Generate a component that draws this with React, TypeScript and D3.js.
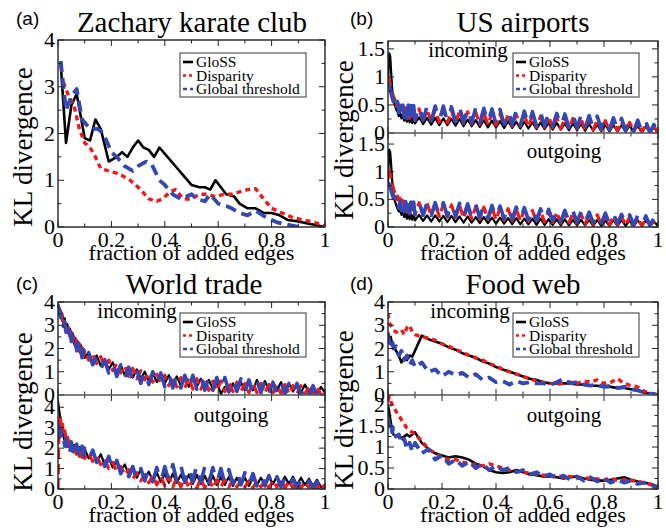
import * as d3 from 'd3';

// ---- data ----
const methods = ['GloSS', 'Disparity', 'Global threshold'];

const fracTicks = [0, 0.2, 0.4, 0.6, 0.8, 1];
const fracMinor = [0.1, 0.3, 0.5, 0.7, 0.9];

// (a) Zachary karate club
const glossKarateX = [0.01, 0.03, 0.05, 0.07, 0.1, 0.12, 0.14, 0.16, 0.19, 0.22, 0.24, 0.26, 0.28, 0.3, 0.32, 0.34, 0.36, 0.38, 0.41, 0.44, 0.47, 0.5, 0.53, 0.55, 0.57, 0.59, 0.61, 0.63, 0.66, 0.68, 0.71, 0.74, 0.77, 0.8, 0.83, 0.86, 0.9, 0.93, 0.96, 1.0];
const glossKarateY = [3.5, 1.8, 2.6, 2.85, 1.9, 1.85, 2.3, 2.1, 1.4, 1.5, 1.6, 1.5, 1.7, 1.85, 1.7, 1.65, 1.5, 1.7, 1.5, 1.3, 1.1, 0.9, 0.85, 0.85, 0.8, 1.0, 0.85, 0.7, 0.65, 0.5, 0.4, 0.4, 0.3, 0.3, 0.25, 0.15, 0.12, 0.08, 0.05, 0.0];
const disparityKarateX = [0.02, 0.04, 0.06, 0.08, 0.1, 0.12, 0.14, 0.16, 0.19, 0.22, 0.24, 0.27, 0.29, 0.31, 0.34, 0.37, 0.39, 0.42, 0.44, 0.47, 0.5, 0.53, 0.56, 0.59, 0.62, 0.65, 0.68, 0.71, 0.74, 0.77, 0.8, 0.84, 0.88, 0.92, 0.96, 1.0];
const disparityKarateY = [3.1, 2.8, 2.6, 2.1, 1.8, 1.7, 1.5, 1.25, 1.2, 1.15, 1.1, 1.0, 0.9, 0.8, 0.6, 0.55, 0.6, 0.75, 0.8, 0.6, 0.6, 0.7, 0.7, 0.65, 0.7, 0.7, 0.75, 0.8, 0.82, 0.6, 0.4, 0.3, 0.2, 0.15, 0.1, 0.02];
const globalKarateX = [0.01, 0.03, 0.05, 0.07, 0.09, 0.12, 0.15, 0.17, 0.2, 0.22, 0.25, 0.28, 0.3, 0.33, 0.35, 0.38, 0.4, 0.43, 0.46, 0.5, 0.52, 0.55, 0.57, 0.6, 0.63, 0.65, 0.68, 0.71, 0.74, 0.78, 0.82, 0.86, 0.9];
const globalKarateY = [3.55, 2.5, 2.8, 2.95, 2.3, 2.1, 2.1, 2.0, 1.6, 1.5, 1.3, 1.2, 1.3, 1.4, 1.35, 1.0, 0.9, 0.7, 0.6, 0.7, 0.6, 0.55, 0.7, 0.5, 0.45, 0.4, 0.3, 0.25, 0.35, 0.2, 0.1, 0.05, 0.0];

// fine x positions for the noisy networks (b, c)
const fineX = [
  0, 0.004, 0.008, 0.012, 0.016, 0.02, 0.025, 0.03, 0.035, 0.04, 0.045, 0.05, 0.055, 0.06, 0.065, 0.07, 0.075, 0.08, 0.085, 0.09, 0.095, 0.1,
  0.115, 0.13, 0.145, 0.16, 0.175, 0.19, 0.205, 0.22, 0.235, 0.25,
  0.265, 0.28, 0.295, 0.31, 0.325, 0.34, 0.355, 0.37, 0.385, 0.4,
  0.415, 0.43, 0.445, 0.46, 0.475, 0.49, 0.505, 0.52, 0.535, 0.55,
  0.565, 0.58, 0.595, 0.61, 0.625, 0.64, 0.655, 0.67, 0.685, 0.7,
  0.715, 0.73, 0.745, 0.76, 0.775, 0.79, 0.805, 0.82, 0.835, 0.85,
  0.865, 0.88, 0.895, 0.91, 0.925, 0.94, 0.955, 0.97, 0.985, 1.0,
];

// coarser x positions for the food web (d)
const gridX = [0, 0.005, 0.01, 0.015, 0.02, 0.03, 0.04, 0.05, 0.06, 0.07, 0.08, 0.09, 0.1, 0.125, 0.15, 0.175, 0.2, 0.225, 0.25, 0.275, 0.3, 0.325, 0.35, 0.375, 0.4, 0.425, 0.45, 0.475, 0.5, 0.525, 0.55, 0.575, 0.6, 0.625, 0.65, 0.675, 0.7, 0.725, 0.75, 0.775, 0.8, 0.825, 0.85, 0.875, 0.9, 0.925, 0.95, 0.975, 1];

// (b) US airports
const glossAirIn = [
  0.85, 1.42, 1.38, 1.05, 0.75, 0.6, 0.5, 0.42, 0.38, 0.3, 0.36, 0.26, 0.33, 0.22, 0.3, 0.2, 0.29, 0.19, 0.28, 0.18, 0.27, 0.17,
  0.28, 0.16, 0.27, 0.15, 0.27, 0.14, 0.26, 0.14, 0.25, 0.13,
  0.25, 0.12, 0.24, 0.12, 0.23, 0.11, 0.23, 0.1, 0.22, 0.1,
  0.21, 0.09, 0.21, 0.09, 0.2, 0.08, 0.2, 0.08, 0.19, 0.07,
  0.19, 0.07, 0.18, 0.06, 0.18, 0.06, 0.17, 0.05, 0.17, 0.05,
  0.16, 0.04, 0.16, 0.04, 0.15, 0.03, 0.15, 0.03, 0.14, 0.03,
  0.14, 0.02, 0.13, 0.02, 0.13, 0.01, 0.12, 0.01, 0.1, 0.0,
];
const disparityAirIn = [
  1.0, 0.95, 0.88, 0.8, 0.72, 0.65, 0.6, 0.48, 0.55, 0.4, 0.5, 0.34, 0.47, 0.3, 0.45, 0.28, 0.44, 0.26, 0.43, 0.24, 0.42, 0.22,
  0.43, 0.21, 0.42, 0.2, 0.42, 0.19, 0.41, 0.18, 0.4, 0.18,
  0.39, 0.17, 0.38, 0.16, 0.37, 0.15, 0.36, 0.15, 0.35, 0.14,
  0.34, 0.13, 0.33, 0.12, 0.33, 0.12, 0.32, 0.11, 0.31, 0.1,
  0.3, 0.1, 0.29, 0.09, 0.28, 0.08, 0.27, 0.08, 0.26, 0.07,
  0.25, 0.06, 0.24, 0.06, 0.23, 0.05, 0.22, 0.04, 0.21, 0.04,
  0.2, 0.03, 0.19, 0.03, 0.18, 0.02, 0.16, 0.01, 0.12, 0.0,
];
const globalAirIn = [
  0.9, 0.85, 0.78, 0.7, 0.62, 0.56, 0.6, 0.42, 0.56, 0.36, 0.52, 0.32, 0.5, 0.28, 0.5, 0.26, 0.5, 0.25, 0.49, 0.24, 0.49, 0.23,
  0.5, 0.22, 0.49, 0.22, 0.48, 0.21, 0.48, 0.2, 0.47, 0.2,
  0.46, 0.19, 0.46, 0.18, 0.45, 0.18, 0.44, 0.17, 0.43, 0.16,
  0.42, 0.15, 0.41, 0.15, 0.4, 0.14, 0.39, 0.13, 0.38, 0.13,
  0.37, 0.12, 0.36, 0.11, 0.35, 0.11, 0.34, 0.1, 0.33, 0.09,
  0.32, 0.08, 0.31, 0.08, 0.3, 0.07, 0.28, 0.06, 0.27, 0.05,
  0.26, 0.04, 0.24, 0.03, 0.23, 0.02, 0.2, 0.01, 0.15, 0.0,
];
const glossAirOut = [
  0.8, 1.4, 1.36, 1.1, 0.8, 0.6, 0.48, 0.4, 0.33, 0.28, 0.3, 0.22, 0.27, 0.18, 0.25, 0.15, 0.24, 0.14, 0.23, 0.13, 0.22, 0.12,
  0.22, 0.11, 0.21, 0.1, 0.21, 0.1, 0.2, 0.09, 0.2, 0.09,
  0.19, 0.08, 0.19, 0.08, 0.18, 0.07, 0.18, 0.07, 0.17, 0.06,
  0.17, 0.06, 0.16, 0.05, 0.16, 0.05, 0.15, 0.05, 0.15, 0.04,
  0.15, 0.04, 0.14, 0.04, 0.14, 0.03, 0.14, 0.03, 0.13, 0.03,
  0.13, 0.03, 0.13, 0.02, 0.13, 0.02, 0.12, 0.02, 0.13, 0.02,
  0.13, 0.02, 0.12, 0.02, 0.12, 0.02, 0.12, 0.02, 0.1, 0.02,
];
const disparityAirOut = [
  1.05, 1.02, 0.95, 0.86, 0.78, 0.7, 0.62, 0.5, 0.56, 0.42, 0.52, 0.36, 0.48, 0.32, 0.46, 0.28, 0.45, 0.26, 0.44, 0.24, 0.44, 0.22,
  0.44, 0.21, 0.43, 0.2, 0.42, 0.19, 0.41, 0.18, 0.4, 0.17,
  0.39, 0.16, 0.38, 0.15, 0.37, 0.14, 0.36, 0.14, 0.35, 0.13,
  0.34, 0.12, 0.33, 0.11, 0.32, 0.11, 0.31, 0.1, 0.3, 0.09,
  0.29, 0.09, 0.28, 0.08, 0.27, 0.07, 0.26, 0.07, 0.25, 0.06,
  0.24, 0.05, 0.23, 0.05, 0.22, 0.04, 0.21, 0.04, 0.2, 0.03,
  0.19, 0.03, 0.18, 0.02, 0.17, 0.02, 0.15, 0.06, 0.08, 0.0,
];
const globalAirOut = [
  0.8, 0.78, 0.72, 0.65, 0.58, 0.52, 0.55, 0.4, 0.5, 0.34, 0.47, 0.3, 0.46, 0.27, 0.46, 0.25, 0.46, 0.24, 0.45, 0.23, 0.45, 0.22,
  0.45, 0.21, 0.45, 0.21, 0.44, 0.2, 0.44, 0.2, 0.43, 0.19,
  0.43, 0.18, 0.42, 0.18, 0.41, 0.17, 0.4, 0.16, 0.39, 0.16,
  0.38, 0.15, 0.37, 0.14, 0.36, 0.14, 0.35, 0.13, 0.34, 0.12,
  0.33, 0.12, 0.32, 0.11, 0.31, 0.1, 0.3, 0.1, 0.29, 0.09,
  0.28, 0.08, 0.27, 0.08, 0.26, 0.07, 0.25, 0.06, 0.24, 0.06,
  0.23, 0.05, 0.22, 0.04, 0.21, 0.04, 0.2, 0.03, 0.16, 0.02,
];

// (c) World trade
const glossTradeIn = [
  3.8, 3.5, 3.7, 3.3, 3.5, 3.1, 3.3, 2.85, 3.05, 2.6, 2.85, 2.4, 2.65, 2.2, 2.45, 2.0, 2.3, 1.85, 2.15, 1.7, 2.0, 1.6,
  1.85, 1.4, 1.7, 1.25, 1.55, 1.1, 1.4, 0.95, 1.3, 0.85,
  1.2, 0.75, 1.1, 0.7, 1.0, 0.6, 0.95, 0.55, 0.9, 0.5,
  0.85, 0.45, 0.8, 0.4, 0.75, 0.35, 0.7, 0.35, 0.7, 0.3,
  0.65, 0.25, 0.55, 0.05, 0.35, 0.1, 0.5, 0.15, 0.55, 0.2,
  0.6, 0.2, 0.65, 0.25, 0.6, 0.2, 0.55, 0.2, 0.55, 0.15,
  0.5, 0.15, 0.45, 0.1, 0.45, 0.1, 0.4, 0.05, 0.35, 0.1,
];
const disparityTradeIn = [
  3.6, 3.75, 3.4, 3.55, 3.2, 3.35, 2.95, 3.1, 2.7, 2.9, 2.5, 2.7, 2.3, 2.5, 2.1, 2.35, 1.95, 2.2, 1.8, 2.05, 1.65, 1.9,
  1.5, 1.8, 1.35, 1.65, 1.2, 1.5, 1.05, 1.35, 0.95, 1.25,
  0.8, 1.15, 0.7, 1.05, 0.65, 0.95, 0.55, 0.9, 0.5, 0.85,
  0.4, 0.8, 0.35, 0.75, 0.3, 0.75, 0.25, 0.7, 0.25, 0.65,
  0.2, 0.6, 0.2, 0.6, 0.15, 0.55, 0.15, 0.55, 0.15, 0.5,
  0.1, 0.5, 0.1, 0.5, 0.1, 0.45, 0.1, 0.45, 0.05, 0.45,
  0.05, 0.4, 0.05, 0.4, 0.05, 0.35, 0.0, 0.35, 0.0, 0.1,
];
const globalTradeIn = [
  3.9, 3.45, 3.6, 3.2, 3.4, 2.95, 3.15, 2.7, 2.95, 2.5, 2.75, 2.3, 2.55, 2.1, 2.4, 1.9, 2.25, 1.75, 2.1, 1.6, 1.95, 1.45,
  1.8, 1.3, 1.65, 1.1, 1.5, 0.95, 1.4, 0.8, 1.3, 0.7,
  1.2, 0.6, 1.1, 0.5, 1.05, 0.45, 1.0, 0.4, 0.95, 0.35,
  0.9, 0.3, 0.9, 0.3, 0.85, 0.25, 0.85, 0.25, 0.8, 0.2,
  0.8, 0.2, 0.75, 0.2, 0.75, 0.15, 0.7, 0.15, 0.7, 0.1,
  0.65, 0.1, 0.6, 0.1, 0.6, 0.05, 0.55, 0.05, 0.55, 0.05,
  0.5, 0.05, 0.5, 0.0, 0.45, 0.0, 0.4, 0.0, 0.35, 0.05,
];
const glossTradeOut = [
  4.3, 3.9, 3.5, 3.1, 2.8, 2.6, 2.35, 2.5, 2.15, 2.35, 2.0, 2.25, 1.9, 2.15, 1.8, 2.1, 1.7, 2.05, 1.65, 2.0, 1.6, 1.95,
  1.5, 1.85, 1.35, 1.7, 1.2, 1.55, 1.05, 1.4, 0.9, 1.2,
  0.7, 1.05, 0.55, 0.95, 0.45, 0.85, 0.4, 0.8, 0.35, 0.75,
  0.3, 0.75, 0.3, 0.7, 0.3, 0.7, 0.25, 0.7, 0.25, 0.65,
  0.2, 0.65, 0.2, 0.6, 0.2, 0.6, 0.15, 0.55, 0.2, 0.55,
  0.15, 0.55, 0.2, 0.55, 0.2, 0.6, 0.25, 0.6, 0.25, 0.6,
  0.25, 0.6, 0.2, 0.55, 0.2, 0.5, 0.15, 0.45, 0.1, 0.15,
];
const disparityTradeOut = [
  0.0, 3.5, 3.6, 3.1, 3.3, 2.7, 2.9, 2.4, 2.6, 2.1, 2.35, 1.95, 2.2, 1.8, 2.1, 1.7, 2.0, 1.6, 1.95, 1.55, 1.9, 1.5,
  1.75, 1.35, 1.6, 1.2, 1.45, 1.0, 1.3, 0.85, 1.1, 0.7,
  0.95, 0.5, 0.8, 0.4, 0.7, 0.3, 0.65, 0.2, 0.6, 0.15,
  0.6, 0.1, 0.55, 0.1, 0.55, 0.05, 0.5, 0.05, 0.5, 0.05,
  0.5, 0.05, 0.45, 0.1, 0.45, 0.1, 0.45, 0.1, 0.4, 0.1,
  0.4, 0.05, 0.4, 0.1, 0.4, 0.05, 0.4, 0.1, 0.4, 0.05,
  0.4, 0.05, 0.35, 0.05, 0.35, 0.05, 0.35, 0.0, 0.3, 0.0,
];
const globalTradeOut = [
  3.2, 3.0, 2.6, 2.8, 2.3, 2.6, 2.1, 2.45, 2.0, 2.35, 1.9, 2.3, 1.85, 2.25, 1.8, 2.2, 1.75, 2.15, 1.7, 2.1, 1.6, 2.0,
  1.45, 1.9, 1.3, 1.75, 1.1, 1.6, 0.9, 1.4, 0.75, 1.2,
  0.6, 1.1, 0.45, 1.0, 0.4, 1.0, 0.35, 1.05, 0.35, 1.1,
  0.4, 1.2, 0.4, 1.15, 0.35, 1.1, 0.35, 1.2, 0.35, 1.1,
  0.3, 1.05, 0.3, 1.0, 0.25, 0.95, 0.25, 0.9, 0.2, 0.8,
  0.2, 0.75, 0.15, 0.7, 0.15, 0.65, 0.1, 0.6, 0.1, 0.55,
  0.1, 0.5, 0.05, 0.45, 0.05, 0.4, 0.05, 0.35, 0.0, 0.1,
];

// (d) Food web
const glossFoodIn = [2.7, 2.4, 2.5, 2.2, 2.1, 1.9, 1.7, 1.4, 1.6, 1.5, 1.7, 1.65, 1.9, 2.55, 2.4, 2.3, 2.2, 2.05, 1.95, 1.8, 1.7, 1.6, 1.45, 1.35, 1.2, 1.1, 1.0, 0.9, 0.8, 0.7, 0.65, 0.55, 0.5, 0.5, 0.5, 0.5, 0.45, 0.45, 0.4, 0.4, 0.35, 0.35, 0.3, 0.3, 0.25, 0.2, 0.1, 0.05, 0.02];
const disparityFoodIn = [3.5, 3.1, 3.0, 2.9, 2.8, 2.7, 2.75, 2.8, 2.6, 2.9, 3.0, 2.7, 2.6, 2.5, 2.45, 2.35, 2.2, 2.1, 1.95, 1.85, 1.7, 1.6, 1.5, 1.35, 1.25, 1.1, 1.0, 0.9, 0.8, 0.7, 0.6, 0.55, 0.5, 0.45, 0.5, 0.55, 0.5, 0.6, 0.55, 0.65, 0.5, 0.55, 0.7, 0.5, 0.4, 0.35, 0.15, 0.08, 0.02];
const globalFoodIn = [2.6, 2.3, 2.2, 2.4, 2.0, 2.1, 1.7, 1.9, 1.5, 1.7, 1.3, 1.5, 1.2, 1.4, 1.0, 1.1, 0.8, 1.0, 0.85, 0.95, 0.75, 0.9, 0.65, 0.75, 0.55, 0.6, 0.45, 0.6, 0.5, 0.55, 0.5, 0.5, 0.45, 0.55, 0.7, 0.5, 0.55, 0.45, 0.4, 0.45, 0.35, 0.4, 0.3, 0.35, 0.25, 0.2, 0.1, 0.05, 0.0];
const glossFoodOut = [2.0, 1.8, 1.6, 1.4, 1.3, 1.25, 1.3, 1.2, 1.25, 1.3, 1.25, 1.3, 1.35, 1.1, 0.95, 0.85, 0.8, 0.75, 0.78, 0.75, 0.7, 0.6, 0.55, 0.45, 0.4, 0.38, 0.4, 0.45, 0.4, 0.35, 0.33, 0.3, 0.3, 0.28, 0.25, 0.28, 0.3, 0.25, 0.22, 0.2, 0.2, 0.22, 0.25, 0.28, 0.22, 0.18, 0.15, 0.12, 0.05];
const disparityFoodOut = [2.1, 2.2, 2.1, 2.0, 1.95, 1.85, 1.75, 1.65, 1.55, 1.45, 1.4, 1.35, 1.3, 1.15, 0.95, 0.85, 0.75, 0.7, 0.7, 0.65, 0.6, 0.58, 0.55, 0.6, 0.55, 0.5, 0.45, 0.42, 0.4, 0.38, 0.35, 0.33, 0.3, 0.32, 0.28, 0.3, 0.25, 0.27, 0.25, 0.24, 0.22, 0.25, 0.2, 0.22, 0.2, 0.18, 0.15, 0.1, 0.03];
const globalFoodOut = [1.7, 1.5, 1.6, 1.35, 1.45, 1.25, 1.3, 1.1, 1.2, 0.95, 1.1, 0.9, 1.1, 0.85, 0.95, 0.7, 0.8, 0.6, 0.7, 0.55, 0.65, 0.5, 0.6, 0.45, 0.55, 0.45, 0.5, 0.4, 0.45, 0.35, 0.4, 0.3, 0.35, 0.25, 0.32, 0.22, 0.3, 0.2, 0.28, 0.18, 0.25, 0.15, 0.22, 0.15, 0.2, 0.12, 0.15, 0.08, 0.05];

// ---- styles ----
const serif = 'Liberation Serif, serif';
const sans = 'Liberation Sans, sans-serif';
const lineStyle = [
  { color: '#000000', width: 2.6, dash: '' },
  { color: '#f01818', width: 3.4, dash: '5,4' },
  { color: '#3347b5', width: 3.8, dash: '11,6' },
];
// dense (noisy) curves: longer dashes so they clump into blobs as in the original
const noisyStyle = [
  { color: '#000000', width: 2.2, dash: '' },
  { color: '#f01818', width: 3.2, dash: '10,5' },
  { color: '#3347b5', width: 3.6, dash: '22,16' },
];
const legendDash = ['', '3,3', '4,3'];

type Sub = {
  top: number;
  bottom: number;
  domain: [number, number];
  ticks: number[];
  minor: number[];
  series: { x: number[]; y: number[] }[];
  note?: { text: string; x: number; y: number };
};

type PanelCfg = {
  id: string;
  tag: string;
  title: string;
  left: number;
  right: number;
  titleX: number;
  titleY: number;
  tagX: number;
  tagY: number;
  ylabX: number;
  ylabY: number;
  noisy: boolean;
  legend: { x: number; y: number };
  subs: Sub[];
};

const fine = (ys: number[]) => ({ x: fineX, y: ys });
const grid = (ys: number[]) => ({ x: gridX, y: ys });

const panels: PanelCfg[] = [
  {
    id: 'a', tag: '(a)', title: 'Zachary karate club', left: 58, right: 325,
    titleX: 192, titleY: 32, tagX: 16, tagY: 25, ylabX: 32, ylabY: 147, noisy: false,
    legend: { x: 180, y: 53 },
    subs: [
      {
        top: 40, bottom: 227, domain: [0, 4], ticks: [0, 1, 2, 3, 4], minor: [0.5, 1.5, 2.5, 3.5],
        series: [
          { x: glossKarateX, y: glossKarateY },
          { x: disparityKarateX, y: disparityKarateY },
          { x: globalKarateX, y: globalKarateY },
        ],
      },
    ],
  },
  {
    id: 'b', tag: '(b)', title: 'US airports', left: 388, right: 658,
    titleX: 523, titleY: 32, tagX: 350, tagY: 25, ylabX: 353, ylabY: 140, noisy: true,
    legend: { x: 513, y: 53 },
    subs: [
      {
        top: 41, bottom: 133, domain: [0, 1.64], ticks: [0, 0.5, 1, 1.5], minor: [0.25, 0.75, 1.25],
        series: [fine(glossAirIn), fine(disparityAirIn), fine(globalAirIn)],
        note: { text: 'incoming', x: 468, y: 57 },
      },
      {
        top: 133, bottom: 227, domain: [0, 1.7], ticks: [0, 0.5, 1, 1.5], minor: [0.25, 0.75, 1.25],
        series: [fine(glossAirOut), fine(disparityAirOut), fine(globalAirOut)],
        note: { text: 'outgoing', x: 564, y: 158 },
      },
    ],
  },
  {
    id: 'c', tag: '(c)', title: 'World trade', left: 58, right: 325,
    titleX: 194, titleY: 294, tagX: 16, tagY: 290, ylabX: 32, ylabY: 412, noisy: true,
    legend: { x: 180, y: 313 },
    subs: [
      {
        top: 302, bottom: 395, domain: [0, 4], ticks: [0, 1, 2, 3, 4], minor: [0.5, 1.5, 2.5, 3.5],
        series: [fine(glossTradeIn), fine(disparityTradeIn), fine(globalTradeIn)],
        note: { text: 'incoming', x: 137, y: 318 },
      },
      {
        top: 395, bottom: 489, domain: [0, 4.6], ticks: [0, 1, 2, 3, 4], minor: [0.5, 1.5, 2.5, 3.5],
        series: [fine(glossTradeOut), fine(disparityTradeOut), fine(globalTradeOut)],
        note: { text: 'outgoing', x: 231, y: 422 },
      },
    ],
  },
  {
    id: 'd', tag: '(d)', title: 'Food web', left: 388, right: 658,
    titleX: 523, titleY: 294, tagX: 350, tagY: 290, ylabX: 353, ylabY: 410, noisy: false,
    legend: { x: 513, y: 313 },
    subs: [
      {
        top: 302, bottom: 395, domain: [0, 4], ticks: [0, 1, 2, 3, 4], minor: [0.5, 1.5, 2.5, 3.5],
        series: [grid(glossFoodIn), grid(disparityFoodIn), grid(globalFoodIn)],
        note: { text: 'incoming', x: 470, y: 318 },
      },
      {
        top: 395, bottom: 489, domain: [0, 2.24], ticks: [0, 0.5, 1, 1.5, 2], minor: [0.25, 0.75, 1.25, 1.75],
        series: [grid(glossFoodOut), grid(disparityFoodOut), grid(globalFoodOut)],
        note: { text: 'outgoing', x: 564, y: 422 },
      },
    ],
  },
];

function Panel({ p }: { p: PanelCfg }) {
  const x = d3.scaleLinear().domain([0, 1]).range([p.left, p.right]);
  const top = p.subs[0].top;
  const bottom = p.subs[p.subs.length - 1].bottom;
  const majorLen = 6;
  const minorLen = 3.5;
  const frame = '#222';
  const styles = p.noisy ? noisyStyle : lineStyle;

  return (
    <g>
      <text x={p.tagX} y={p.tagY} style={{ fontFamily: sans, fontSize: 19 }}>{p.tag}</text>
      <text x={p.titleX} y={p.titleY} textAnchor="middle" style={{ fontFamily: serif, fontSize: 29 }}>{p.title}</text>

      {p.subs.map((s, si) => {
        const y = d3.scaleLinear().domain(s.domain).range([s.bottom, s.top]);
        const gen = d3
          .line<[number, number]>()
          .x(d => x(d[0]))
          .y(d => y(d[1]));
        const clipId = `clip-${p.id}-${si}`;
        return (
          <g key={si}>
            <clipPath id={clipId}>
              <rect x={p.left} y={s.top} width={p.right - p.left} height={s.bottom - s.top} />
            </clipPath>
            {s.note && (
              <text x={s.note.x} y={s.note.y} textAnchor="middle" style={{ fontFamily: serif, fontSize: 21 }}>{s.note.text}</text>
            )}
            <g clipPath={`url(#${clipId})`}>
              {s.series.map((ser, k) => {
                const pts = ser.x.map((xv, i) => [xv, ser.y[i]] as [number, number]);
                const st = styles[k];
                return (
                  <path
                    key={k}
                    d={gen(pts) || ''}
                    fill="none"
                    stroke={st.color}
                    strokeWidth={st.width}
                    strokeDasharray={st.dash || undefined}
                    strokeLinejoin="round"
                  />
                );
              })}
            </g>
            {s.ticks.map(t => (
              <g key={`yt${t}`}>
                <line x1={p.left} x2={p.left + majorLen} y1={y(t)} y2={y(t)} stroke={frame} strokeWidth={1} />
                <line x1={p.right} x2={p.right - majorLen} y1={y(t)} y2={y(t)} stroke={frame} strokeWidth={1} />
                <text x={p.left - 3} y={y(t) + 7} textAnchor="end" style={{ fontFamily: serif, fontSize: 22 }}>{String(t)}</text>
              </g>
            ))}
            {s.minor.map(t => (
              <g key={`ym${t}`}>
                <line x1={p.left} x2={p.left + minorLen} y1={y(t)} y2={y(t)} stroke={frame} strokeWidth={1} />
                <line x1={p.right} x2={p.right - minorLen} y1={y(t)} y2={y(t)} stroke={frame} strokeWidth={1} />
              </g>
            ))}
            {fracTicks.map(t => (
              <g key={`xt${t}`}>
                <line x1={x(t)} x2={x(t)} y1={s.bottom} y2={s.bottom - majorLen} stroke={frame} strokeWidth={1} />
                <line x1={x(t)} x2={x(t)} y1={s.top} y2={s.top + majorLen} stroke={frame} strokeWidth={1} />
              </g>
            ))}
            {fracMinor.map(t => (
              <g key={`xm${t}`}>
                <line x1={x(t)} x2={x(t)} y1={s.bottom} y2={s.bottom - minorLen} stroke={frame} strokeWidth={1} />
                <line x1={x(t)} x2={x(t)} y1={s.top} y2={s.top + minorLen} stroke={frame} strokeWidth={1} />
              </g>
            ))}
          </g>
        );
      })}

      {p.subs.length > 1 && (
        <line x1={p.left} x2={p.right} y1={p.subs[0].bottom} y2={p.subs[0].bottom} stroke="#555" strokeWidth={1.6} />
      )}
      <rect x={p.left} y={top} width={p.right - p.left} height={bottom - top} fill="none" stroke={frame} strokeWidth={1.4} />

      {fracTicks.map(t => (
        <text key={`xl${t}`} x={x(t)} y={bottom + 20} textAnchor="middle" style={{ fontFamily: serif, fontSize: 22 }}>{String(t)}</text>
      ))}
      <text x={(p.left + p.right) / 2} y={bottom + 33} textAnchor="middle" style={{ fontFamily: serif, fontSize: 22 }}>fraction of added edges</text>
      <text
        transform={`translate(${p.ylabX},${p.ylabY}) rotate(-90)`}
        textAnchor="middle"
        style={{ fontFamily: serif, fontSize: 27 }}
      >KL divergence</text>

      <g transform={`translate(${p.legend.x},${p.legend.y})`}>
        <rect x={0} y={0} width={126} height={44} fill="white" stroke="#555" strokeWidth={1.2} />
        {methods.map((m, k) => (
          <g key={m} transform={`translate(0, ${9 + k * 13.5})`}>
            <line
              x1={3}
              x2={13}
              y1={0}
              y2={0}
              stroke={lineStyle[k].color}
              strokeWidth={2.6}
              strokeDasharray={legendDash[k] || undefined}
            />
            <text x={16} y={5} style={{ fontFamily: serif, fontSize: 15.5 }}>{m}</text>
          </g>
        ))}
      </g>
    </g>
  );
}

export default function App() {
  return (
    <svg
      width={666}
      height={530}
      viewBox="0 0 666 530"
      style={{ position: 'absolute', left: 0, top: 0, background: 'white' }}
    >
      <rect width={666} height={530} fill="white" />
      {panels.map(p => (
        <Panel key={p.id} p={p} />
      ))}
    </svg>
  );
}
